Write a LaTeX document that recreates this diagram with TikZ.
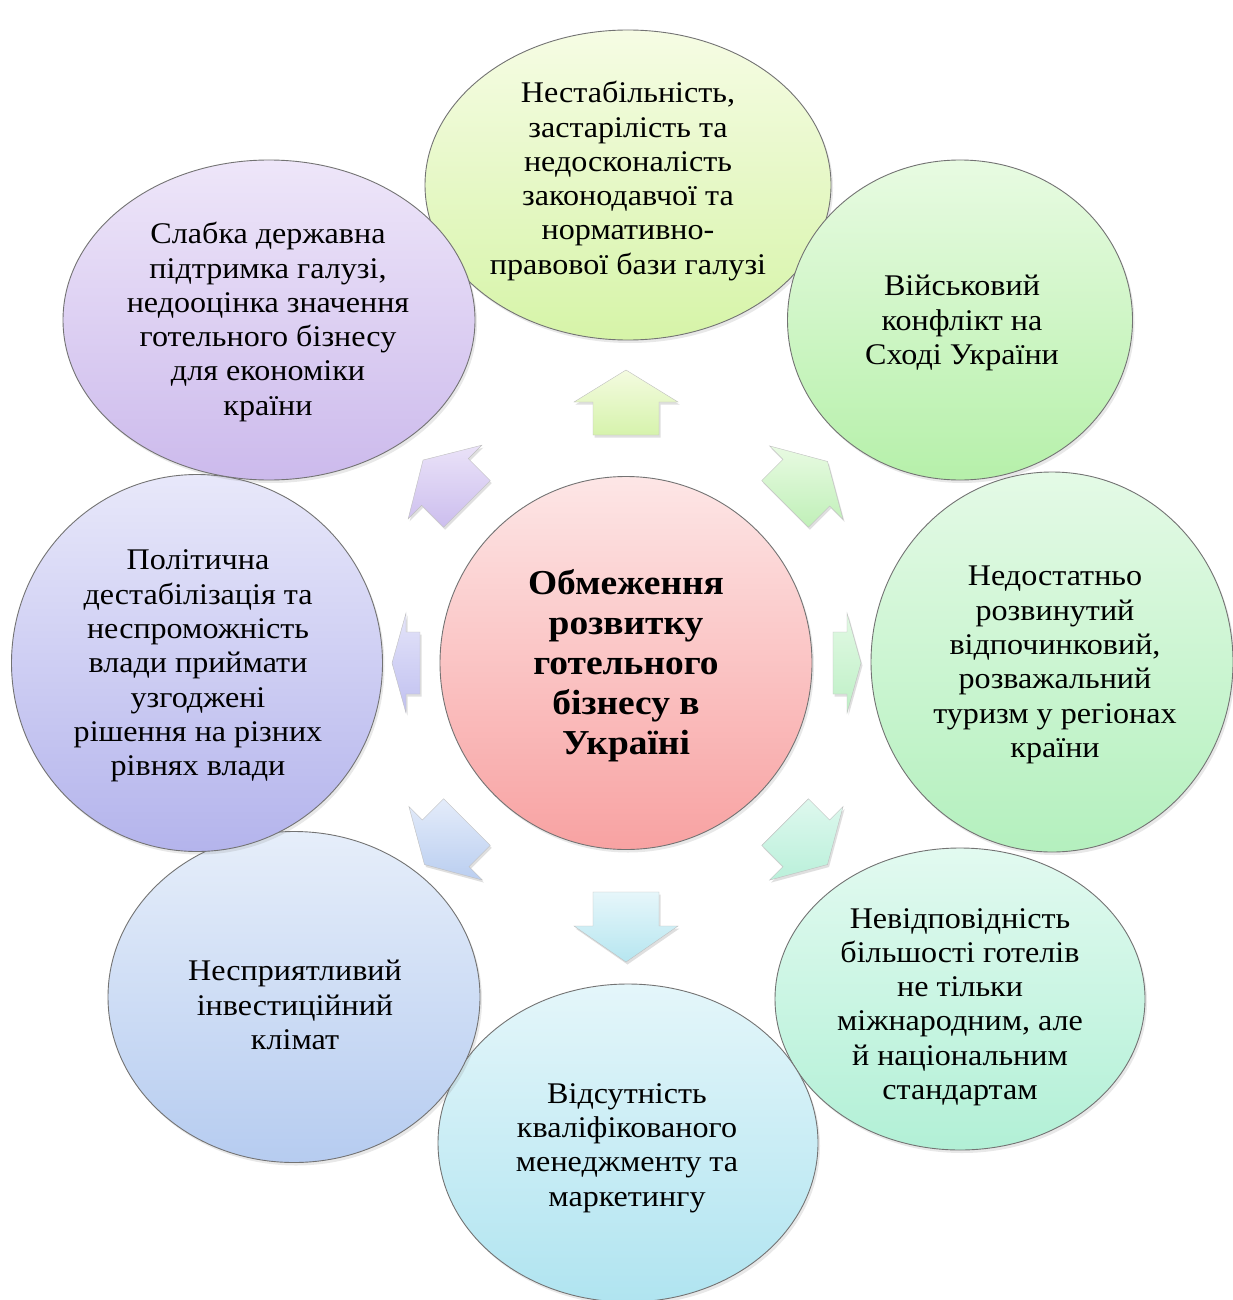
\documentclass[tikz,border=0pt]{standalone}
\usepackage{fontspec}
\setmainfont{Liberation Serif}[FakeStretch=1.07]
\usetikzlibrary{shapes.geometric,calc,shadows}
\newcommand\radarrow[8]{%
  \pgfmathsetmacro\arA{#2}\pgfmathsetmacro\arB{#2+#3-#4}\pgfmathsetmacro\arC{#2+#3}%
  \shade[arrowst, top color=#7, bottom color=#8]
   ($(c.center)+(#1:\arA)+(#1+90:#5)$) -- ($(c.center)+(#1:\arB)+(#1+90:#5)$) --
   ($(c.center)+(#1:\arB)+(#1+90:#6)$) -- ($(c.center)+(#1:\arC)$) --
   ($(c.center)+(#1:\arB)+(#1-90:#6)$) -- ($(c.center)+(#1:\arB)+(#1-90:#5)$) --
   ($(c.center)+(#1:\arA)+(#1-90:#5)$) -- cycle;
}
\begin{document}
\begin{tikzpicture}[x=1pt,y=-1pt,
  circ/.style={ellipse, draw=black!55, line width=0.9pt, inner sep=0pt,
    drop shadow={shadow xshift=2pt,shadow yshift=-3pt,opacity=0.18}},
  txt/.style={align=center, font=\fontsize{30}{34.3}\selectfont, inner sep=0pt},
  ctxt/.style={align=center, font=\fontsize{35}{40}\selectfont\bfseries, inner sep=0pt},
  arrowst/.style={draw=black!25, line width=0.4pt,
    drop shadow={shadow xshift=1.5pt,shadow yshift=-2.5pt,opacity=0.25}}]
\useasboundingbox (0,0) rectangle (1233,1300);
\fill[white] (0,0) rectangle (1233,1300);

% centre
\node[circ, minimum width=372pt, minimum height=373pt,
      top color={rgb,255:red,253;green,230;blue,230}, bottom color={rgb,255:red,248;green,162;blue,162}] (c) at (626,663) {};
\node[ctxt] (ct) at (626,666) {Обмеження\\розвитку\\готельного\\бізнесу в\\Україні};

% arrows
\radarrow{-90}{228}{65}{32}{33}{52}{{rgb,255:red,244;green,251;blue,224}}{{rgb,255:red,214;green,243;blue,172}}
\radarrow{-45}{225}{60}{30}{33}{52}{{rgb,255:red,232;green,250;blue,226}}{{rgb,255:red,192;green,240;blue,184}}
\radarrow{0}{207}{28}{14}{31}{50}{{rgb,255:red,226;green,249;blue,228}}{{rgb,255:red,190;green,240;blue,198}}
\radarrow{45}{225}{60}{30}{33}{52}{{rgb,255:red,222;green,248;blue,238}}{{rgb,255:red,186;green,240;blue,218}}
\radarrow{90}{229}{70}{36}{33}{52}{{rgb,255:red,230;green,246;blue,250}}{{rgb,255:red,182;green,230;blue,240}}
\radarrow{135}{225}{60}{30}{33}{52}{{rgb,255:red,228;green,236;blue,250}}{{rgb,255:red,186;green,206;blue,240}}
\radarrow{180}{206}{28}{14}{31}{50}{{rgb,255:red,228;green,228;blue,249}}{{rgb,255:red,192;green,192;blue,240}}
\radarrow{-135}{225}{62}{31}{33}{52}{{rgb,255:red,234;green,226;blue,248}}{{rgb,255:red,204;green,190;blue,238}}

% outer circles
\node[circ, minimum width=406pt, minimum height=310pt,
      top color={rgb,255:red,246;green,252;blue,228}, bottom color={rgb,255:red,214;green,244;blue,168}] (n1) at (628,185) {};
\node[circ, minimum width=345pt, minimum height=320pt,
      top color={rgb,255:red,232;green,251;blue,226}, bottom color={rgb,255:red,182;green,240;blue,170}] (n2) at (960,320) {};
\node[circ, minimum width=362pt, minimum height=380pt,
      top color={rgb,255:red,228;green,250;blue,230}, bottom color={rgb,255:red,180;green,240;blue,190}] (n3) at (1052,662) {};
\node[circ, minimum width=370pt, minimum height=302pt,
      top color={rgb,255:red,226;green,250;blue,240}, bottom color={rgb,255:red,178;green,240;blue,214}] (n4) at (960,999) {};
\node[circ, minimum width=380pt, minimum height=318pt,
      top color={rgb,255:red,228;green,246;blue,250}, bottom color={rgb,255:red,176;green,228;blue,240}] (n5) at (628,1143) {};
\node[circ, minimum width=372pt, minimum height=331pt,
      top color={rgb,255:red,230;green,238;blue,250}, bottom color={rgb,255:red,182;green,204;blue,240}] (n6) at (294,997) {};
\node[circ, minimum width=371pt, minimum height=377pt,
      top color={rgb,255:red,232;green,232;blue,250}, bottom color={rgb,255:red,180;green,180;blue,236}] (n7) at (197,663) {};
\node[circ, minimum width=412pt, minimum height=320pt,
      top color={rgb,255:red,238;green,230;blue,249}, bottom color={rgb,255:red,204;green,186;blue,236}] (n8) at (269,320) {};

% texts
\node[txt] (t1) at (628,181) {Нестабільність,\\застарілість та\\недосконалість\\законодавчої та\\нормативно-\\правової бази галузі};
\node[txt] (t2) at (962,323) {Військовий\\конфлікт на\\Сході України};
\node[txt] (t3) at (1055,665) {Недостатньо\\розвинутий\\відпочинковий,\\розважальний\\туризм у регіонах\\країни};
\node[txt] (t4) at (960,1007) {Невідповідність\\більшості готелів\\не тільки\\міжнародним, але\\й національним\\стандартам};
\node[txt] (t5) at (627,1148) {Відсутність\\кваліфікованого\\менеджменту та\\маркетингу};
\node[txt] (t6) at (295,1005) {Несприятливий\\інвестиційний\\клімат};
\node[txt] (t7) at (198,666) {Політична\\дестабілізація та\\неспроможність\\влади приймати\\узгоджені\\рішення на різних\\рівнях влади};
\node[txt] (t8) at (268,322) {Слабка державна\\підтримка галузі,\\недооцінка значення\\готельного бізнесу\\для економіки\\країни};
\end{tikzpicture}
\end{document}
